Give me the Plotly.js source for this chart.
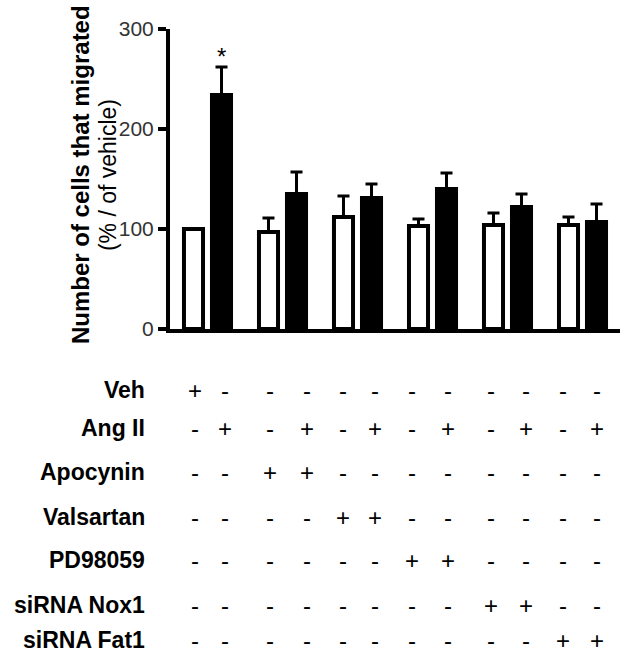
<!DOCTYPE html>
<html>
<head>
<meta charset="utf-8">
<script src="https://cdn.plot.ly/plotly-3.0.1.min.js"></script>
<style>
  html, body { margin: 0; padding: 0; background: #fff; }
  #chart { width: 628px; height: 654px; }
</style>
</head>
<body>
<div id="chart"></div>
<script>
// ---- data ----
var groups = ['G1', 'G2', 'G3', 'G4', 'G5', 'G6'];
var vehicleMean = [100, 97, 112, 103, 104, 104];
var vehicleErr  = [0, 14, 21, 7, 12, 8];
var angMean     = [234, 135, 131, 140, 122, 107];
var angErr      = [28, 22, 14, 16, 13, 18];
var zeros       = [0, 0, 0, 0, 0, 0];

var rowLabels = ['Veh', 'Ang II', 'Apocynin', 'Valsartan', 'PD98059', 'siRNA Nox1', 'siRNA Fat1'];
var rowSigns = [
  ['+','-','-','-','-','-','-','-','-','-','-','-'],
  ['-','+','-','+','-','+','-','+','-','+','-','+'],
  ['-','-','+','+','-','-','-','-','-','-','-','-'],
  ['-','-','-','-','+','+','-','-','-','-','-','-'],
  ['-','-','-','-','-','-','+','+','-','-','-','-'],
  ['-','-','-','-','-','-','-','-','+','+','-','-'],
  ['-','-','-','-','-','-','-','-','-','-','+','+']
];
var yTitleLine1 = 'Number of cells that migrated';
var yTitleLine2 = '(% / of vehicle)';

// ---- style / layout helpers ----
var FONT = 'Liberation Sans, Arial, sans-serif';
var rowPixelY = [390, 428, 472, 517, 560, 605, 640];   // pixel centers of table rows
var colShift = [1, 3, 1, 10, -1, 3, -7, 1, -3, 4, -6, 0]; // slight hand offsets of table columns
var plotBottom = 329;

var traces = [
  {
    type: 'bar', x: groups, y: vehicleMean, name: 'Vehicle',
    marker: { color: '#ffffff', line: { color: '#000000', width: 4 } },
    error_y: { type: 'data', symmetric: false, array: vehicleErr, arrayminus: zeros,
               color: '#000000', thickness: 3, width: 6 },
    hoverinfo: 'skip'
  },
  {
    type: 'bar', x: groups, y: angMean, name: 'Ang II',
    marker: { color: '#000000', line: { color: '#000000', width: 4 } },
    error_y: { type: 'data', symmetric: false, array: angErr, arrayminus: zeros,
               color: '#000000', thickness: 3, width: 6 },
    hoverinfo: 'skip'
  }
];

var annotations = [];
// y-axis title (two lines, first bold)
annotations.push({
  x: 0, xref: 'paper', xanchor: 'center', xshift: -90,
  y: 0.513, yref: 'paper', yanchor: 'middle',
  textangle: -90, showarrow: false,
  text: '<b>' + yTitleLine1 + '</b>',
  font: { family: FONT, size: 24, color: '#000' }
});
annotations.push({
  x: 0, xref: 'paper', xanchor: 'center', xshift: -62,
  y: 0.513, yref: 'paper', yanchor: 'middle',
  textangle: -90, showarrow: false,
  text: yTitleLine2,
  font: { family: FONT, size: 23, color: '#000' }
});
// asterisk above Ang II bar of first group
annotations.push({
  x: groups[0], xref: 'x', xshift: 14,
  y: angMean[0] + angErr[0], yref: 'y', yanchor: 'bottom', yshift: -5,
  text: '*', showarrow: false, font: { family: FONT, size: 24, color: '#000' }
});
// treatment table
rowLabels.forEach(function (lab, r) {
  var ys = -(rowPixelY[r] - plotBottom);
  annotations.push({
    x: 0, xref: 'paper', xanchor: 'right', xshift: -23,
    y: 0, yref: 'paper', yanchor: 'middle', yshift: ys,
    text: '<b>' + lab + '</b>', showarrow: false,
    font: { family: FONT, size: 23, color: '#000' }
  });
  rowSigns[r].forEach(function (s, c) {
    annotations.push({
      x: groups[Math.floor(c / 2)], xref: 'x', xanchor: 'center',
      xshift: (c % 2 === 0 ? -14 : 14) + colShift[c],
      y: 0, yref: 'paper', yanchor: 'middle', yshift: ys,
      text: s, showarrow: false,
      font: { family: FONT, size: 24, color: '#000' }
    });
  });
});

var layout = {
  width: 628, height: 654,
  margin: { l: 170, r: 8, t: 29, b: 325, pad: 0 },
  paper_bgcolor: '#ffffff', plot_bgcolor: '#ffffff',
  showlegend: false,
  barmode: 'group', bargap: 0.253, bargroupgap: 0.32,
  font: { family: FONT, color: '#000' },
  xaxis: {
    type: 'category', range: [-0.5, 5.5], fixedrange: true,
    showline: true, linewidth: 4, linecolor: '#000',
    showticklabels: false, ticks: '', showgrid: false, zeroline: false
  },
  yaxis: {
    range: [0, 300], tickvals: [0, 100, 200, 300], fixedrange: true,
    ticks: 'outside', ticklen: 8, tickwidth: 4, tickcolor: '#000',
    showline: true, linewidth: 4, linecolor: '#000',
    showgrid: false, zeroline: false,
    tickfont: { family: FONT, size: 21, color: '#333' }
  },
  annotations: annotations
};

Plotly.newPlot('chart', traces, layout, { displayModeBar: false, staticPlot: true });
</script>
</body>
</html>
